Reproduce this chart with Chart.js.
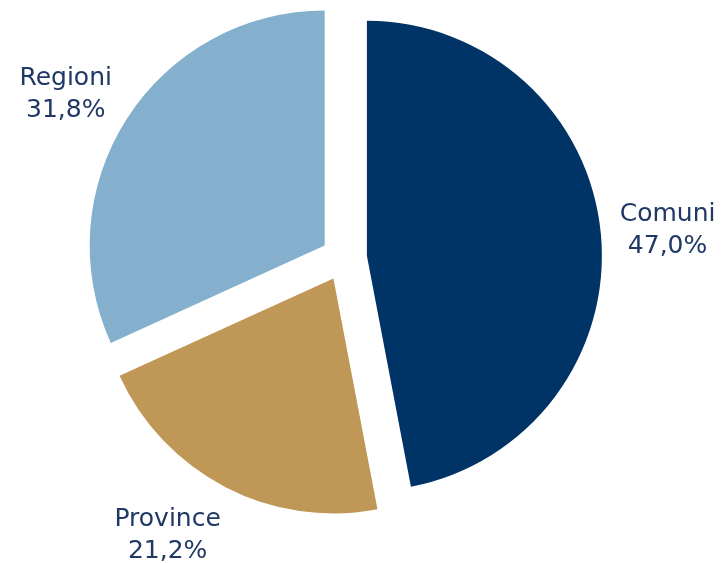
<!DOCTYPE html>
<html>
<head>
<meta charset="utf-8">
<script src="https://cdn.jsdelivr.net/npm/chart.js@4/dist/chart.umd.min.js"></script>
<style>
html,body{margin:0;padding:0;background:#fff;}
#wrap{width:723px;height:563px;position:relative;}
</style>
</head>
<body>
<div id="wrap"><canvas id="c" width="723" height="563"></canvas></div>
<script>
const categories = ["Comuni", "Province", "Regioni"];
const values = [47.0, 21.2, 31.8];
const valueLabels = ["47,0%", "21,2%", "31,8%"];
const colors = ["#003366", "#BF9757", "#84B0CE"];

const EXPLODE = 23;

// Draw each slice pulled out along its bisector (plain translation, no distortion)
const explodePlugin = {
  id: 'explode',
  beforeDatasetDraw(chart, args) {
    const ctx = chart.ctx;
    const meta = args.meta;
    meta.data.forEach(arc => {
      const mid = (arc.startAngle + arc.endAngle) / 2;
      ctx.save();
      ctx.translate(Math.cos(mid) * EXPLODE, Math.sin(mid) * EXPLODE);
      arc.draw(ctx, chart.chartArea);
      ctx.restore();
    });
    return false;
  }
};

const labelPlugin = {
  id: 'sliceLabels',
  afterDatasetsDraw(chart) {
    const ctx = chart.ctx;
    const meta = chart.getDatasetMeta(0);
    ctx.save();
    ctx.font = '25px "DejaVu Sans", sans-serif';
    ctx.fillStyle = '#1F3864';
    ctx.textAlign = 'center';
    ctx.textBaseline = 'middle';
    const nudges = [[0, 3], [-27, -11], [-5, 12]];
    meta.data.forEach((arc, i) => {
      const mid = (arc.startAngle + arc.endAngle) / 2;
      const d = arc.outerRadius * 1.383;
      const cx = arc.x + Math.cos(mid) * d + nudges[i][0];
      const cy = arc.y + Math.sin(mid) * d + nudges[i][1];
      ctx.fillText(categories[i], cx, cy - 16);
      ctx.fillText(valueLabels[i], cx, cy + 16);
    });
    ctx.restore();
  }
};

new Chart(document.getElementById('c'), {
  type: 'pie',
  data: {
    labels: categories,
    datasets: [{
      data: values,
      backgroundColor: colors,
      borderWidth: 0,
      offset: 0,
      hoverOffset: 0
    }]
  },
  options: {
    responsive: false,
    animation: false,
    radius: 235,
    layout: { padding: { left: 0, right: 35, top: 0, bottom: 47 } },
    plugins: {
      legend: { display: false },
      tooltip: { enabled: false }
    },
    events: []
  },
  plugins: [explodePlugin, labelPlugin]
});
</script>
</body>
</html>
